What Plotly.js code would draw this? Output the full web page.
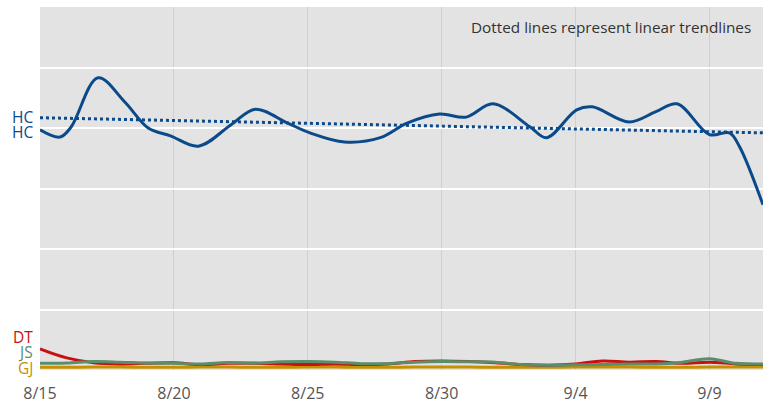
<!DOCTYPE html>
<html>
<head>
<meta charset="utf-8">
<script src="https://cdn.plot.ly/plotly-3.0.1.min.js"></script>
<style>
  html, body { margin: 0; padding: 0; background: #fff; }
  #chart { width: 764px; height: 404px; }
</style>
</head>
<body>
<div id="chart"></div>
<script>
// HC poll line (time, value)
const hcDates = [
  '2016-08-15 00:00', '2016-08-15 18:00', '2016-08-16 04:00', '2016-08-17 04:00',
  '2016-08-18 04:00', '2016-08-19 01:00', '2016-08-19 21:00', '2016-08-20 22:00',
  '2016-08-22 03:00', '2016-08-23 01:00', '2016-08-24 06:00', '2016-08-25 02:00',
  '2016-08-26 09:00', '2016-08-27 17:00', '2016-08-28 17:00', '2016-08-29 22:00',
  '2016-08-30 22:00', '2016-08-31 22:00', '2016-09-02 07:00', '2016-09-02 22:00',
  '2016-09-04 01:00', '2016-09-04 15:00', '2016-09-06 00:00', '2016-09-07 00:00',
  '2016-09-07 19:00', '2016-09-09 00:00', '2016-09-09 18:00', '2016-09-10 03:00',
  '2016-09-11 00:00'
];
const hcValues = [
  39.7, 38.5, 40.2, 48.3, 44.3, 40.0, 38.7, 37.0,
  40.5, 43.1, 40.8, 39.2, 37.7, 38.4, 40.8, 42.3,
  41.8, 44.0, 40.2, 38.4, 43.0, 43.5, 41.0, 42.7,
  44.0, 38.9, 39.2, 36.9, 27.3
];

// linear trend of HC (start / end)
const trendDates = ['2016-08-15', '2016-09-11'];
const hcTrend = [41.7, 39.2];

// daily values for the minor candidates
const days = [
  '2016-08-15', '2016-08-16', '2016-08-17', '2016-08-18', '2016-08-19', '2016-08-20', '2016-08-21',
  '2016-08-22', '2016-08-23', '2016-08-24', '2016-08-25', '2016-08-26', '2016-08-27', '2016-08-28',
  '2016-08-29', '2016-08-30', '2016-08-31', '2016-09-01', '2016-09-02', '2016-09-03', '2016-09-04',
  '2016-09-05', '2016-09-06', '2016-09-07', '2016-09-08', '2016-09-09', '2016-09-10', '2016-09-11'
];
const dtValues = [3.5, 2.0, 1.2, 1.0, 1.1, 1.2, 0.9, 1.1, 1.1, 1.0, 0.9, 1.0, 0.9, 1.0,
                  1.4, 1.5, 1.4, 1.2, 0.9, 0.8, 1.0, 1.5, 1.3, 1.4, 1.1, 1.3, 1.0, 0.9];
const jsValues = [1.1, 1.15, 1.4, 1.3, 1.15, 1.1, 1.0, 1.25, 1.15, 1.35, 1.4, 1.3, 1.05, 1.05,
                  1.3, 1.4, 1.35, 1.3, 0.9, 0.8, 0.85, 0.9, 1.0, 1.0, 1.3, 1.85, 1.1, 1.0];
const gjValues = [0.45, 0.45, 0.5, 0.5, 0.45, 0.45, 0.5, 0.5, 0.45, 0.45, 0.5, 0.5, 0.45, 0.45,
                  0.5, 0.5, 0.5, 0.45, 0.45, 0.45, 0.5, 0.5, 0.5, 0.45, 0.45, 0.5, 0.5, 0.5];

// left-side labels: text, value where placed
const labelNames = ['HC', 'HC', 'DT', 'JS', 'GJ'];
const labelValues = [41.8, 39.35, 5.5, 2.9, 0.25];

const colors = { HC: '#0a4a8a', DT: '#c8100e', JS: '#5b8c6c', GJ: '#c89000' };
const labelColors = [colors.HC, colors.HC, colors.DT, colors.JS, colors.GJ];

const font = '"Open Sans", "Noto Sans", sans-serif';

const traces = [
  { x: days, y: gjValues, mode: 'lines', line: { color: colors.GJ, width: 3, shape: 'spline' } },
  { x: days, y: dtValues, mode: 'lines', line: { color: colors.DT, width: 3, shape: 'spline' } },
  { x: days, y: jsValues, mode: 'lines', line: { color: colors.JS, width: 3, shape: 'spline' } },
  { x: trendDates, y: hcTrend, mode: 'lines', line: { color: colors.HC, width: 3, dash: 'dot' } },
  { x: hcDates, y: hcValues, mode: 'lines', line: { color: colors.HC, width: 3, shape: 'spline', smoothing: 1 } }
];

const annotations = labelNames.map((name, i) => ({
  xref: 'paper', x: 0, xanchor: 'right', xshift: -5,
  yref: 'y', y: labelValues[i], yanchor: 'middle',
  text: name, showarrow: false,
  font: { family: font, size: 15.5, color: labelColors[i] }
}));
annotations.push({
  xref: 'paper', x: 1, xanchor: 'right', xshift: -10,
  yref: 'paper', y: 1, yanchor: 'top', yshift: -8,
  text: 'Dotted lines represent linear trendlines', showarrow: false,
  font: { family: font, size: 15.3, color: '#333' }
});

const layout = {
  width: 764,
  height: 404,
  margin: { l: 40, r: 1, t: 7, b: 34 },
  paper_bgcolor: '#fff',
  plot_bgcolor: '#e3e3e3',
  showlegend: false,
  font: { family: font },
  xaxis: {
    type: 'date',
    range: ['2016-08-15', '2016-09-11'],
    tick0: '2016-08-15',
    dtick: 5 * 86400000,
    tickformat: '%-m/%-d',
    showgrid: true,
    gridcolor: '#cfcfcf',
    gridwidth: 1,
    zeroline: false,
    showline: false,
    ticks: '',
    ticklabelstandoff: 12,
    tickfont: { family: font, size: 16, color: '#555' }
  },
  yaxis: {
    range: [0, 60],
    dtick: 10,
    showgrid: true,
    gridcolor: '#ffffff',
    gridwidth: 2,
    zeroline: false,
    showticklabels: false,
    ticks: ''
  },
  annotations: annotations
};

Plotly.newPlot('chart', traces, layout, { displayModeBar: false, staticPlot: true });
</script>
</body>
</html>
